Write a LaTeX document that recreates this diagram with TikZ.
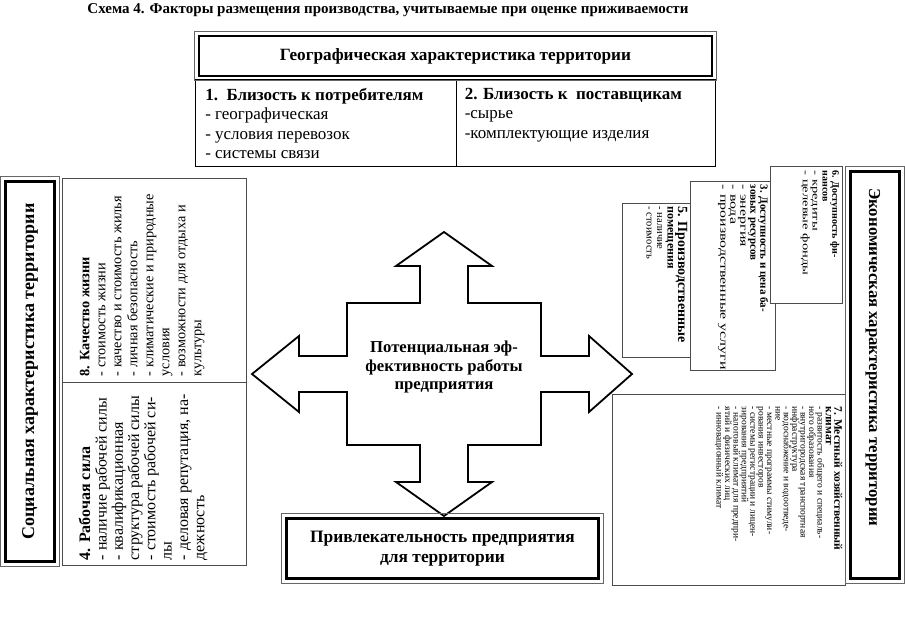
\documentclass[tikz,border=0pt]{standalone}
\usepackage{fontspec}
\setmainfont{Liberation Serif}
\newfontfamily\wideA[FakeStretch=1.45]{Liberation Serif}
\usetikzlibrary{positioning}
\newcommand{\setfs}[2]{\fontsize{#1}{#2}\selectfont\lineskiplimit=-20pt\relax}
\tikzset{
  dfr/.style={draw, line width=2.6pt, fill=white, inner sep=0pt, align=center},
  ofr/.style={draw=black!60, line width=0.8pt},
  box/.style={draw=black!70, line width=0.9pt, fill=white, inner sep=0pt},
  txt/.style={inner sep=0pt, align=left},
  crs/.style={draw, line width=1.8pt, fill=white, line join=miter}
}

\begin{document}
\begin{tikzpicture}[x=1pt, y=-1pt]
	\useasboundingbox (0,0) rectangle (905,623);
	% title
	\node[txt, font={\setfs{15}{16}\bfseries}] (ttl) at (388,10) {Схема 4. Факторы размещения производства, учитываемые при оценке приживаемости};
	% geography: header and two cells
	\node[box, draw=black, minimum width=260.5, minimum height=86.5] (c1) at (325.75,122.75) {};
	\node[box, draw=black, minimum width=259.5, minimum height=86.5] (c2) at (585.75,122.75) {};
	\node[dfr, minimum width=513, minimum height=40, font={\setfs{17.2}{20}\bfseries}] (geo) at (455.5,56) {Географическая характеристика территории};
	\node[txt, anchor=north west, font={\setfs{17}{19.3}}] (c1t) at ([shift={(10,9)}]c1.north west) {\textbf{1.\ \ Близость к потребителям}\\- географическая\\- условия перевозок\\- системы связи};
	\node[txt, anchor=north west, font={\setfs{17}{19.3}}] (c2t) at ([shift={(9,9)}]c2.north west) {\textbf{2. Близость к\ \ поставщикам}\\-сырье\\-комплектующие изделия};
	% central cross
	\coordinate (ctr) at (444,374);
	\draw[crs, shift={(ctr)}] (0,-142) -- (48,-108) -- (24,-108) -- (24,-71) -- (97,-71) -- (97,-18) -- (145,-18) -- (145,-38) -- (188,0) -- (145,38) -- (145,18) -- (97,18) -- (97,71) -- (24,71) -- (24,108) -- (48,108) -- (0,142) -- (-48,108) -- (-24,108) -- (-24,71) -- (-97,71) -- (-97,18) -- (-145,18) -- (-145,38) -- (-192,0) -- (-145,-38) -- (-145,-18) -- (-97,-18) -- (-97,-71) -- (-24,-71) -- (-24,-108) -- (-48,-108) -- cycle;
	\node[align=center, inner sep=0pt, font={\setfs{16.7}{18.5}\bfseries}] (pot) at (444,367) {Потенциальная эф-\\фективность работы\\предприятия};
	% attractiveness
	\node[dfr, minimum width=312, minimum height=60, font={\setfs{17.4}{20}\bfseries}] (att) at (442.5,548.5) {Привлекательность предприятия\\для территории};
	% social side
	\node[dfr, minimum width=49, minimum height=380] (soc) at (30,371.5) {};
	\node[rotate=90, inner sep=0pt, font={\setfs{18}{20}\bfseries}] (socl) at (soc.center) {Социальная характеристика территории};
	\node[box, minimum width=184, minimum height=204] (q8) at (154,280) {};
	\node[txt, rotate=90, anchor=north west, font={\setfs{14.3}{16}}] (q8t) at ([shift={(18,-6)}]q8.south west) {\textbf{8. Качество жизни}\\- стоимость жизни\\- качество и стоимость жилья\\- личная безопасность\\- климатические и природные\\условия\\- возможности для отдыха и\\культуры};
	\node[box, minimum width=184, minimum height=183] (q4) at (154,473.5) {};
	\node[txt, rotate=90, anchor=north west, font={\setfs{16}{16.3}}] (q4t) at ([shift={(17,-5)}]q4.south west) {\textbf{4. Рабочая сила}\\- наличие рабочей силы\\- квалификационная\\структура рабочей силы\\- стоимость рабочей си-\\лы\\- деловая репутация, на-\\дежность};
	% economic side
	\node[dfr, minimum width=49, minimum height=407] (eco) at (875,375) {};
	\node[rotate=-90, anchor=west, inner sep=0pt, font={\setfs{16.75}{20}\bfseries}] (ecol) at (873,188) {Экономическая характеристика территории};
	\node[box, minimum width=68, minimum height=154] (q5) at (656,280) {};
	\node[txt, rotate=-90, anchor=north west, font={\setfs{10.5}{10.5}}] (q5t) at ([shift={(-3,4)}]q5.north east) {{\setfs{14}{11}\bfseries 5. Производственные}\\{\setfs{12}{11}\bfseries помещения}\\- наличие\\- стоимость};
	\node[box, minimum width=85, minimum height=189] (q3) at (732.5,275.5) {};
	\node[txt, rotate=-90, anchor=north west, font={\setfs{11}{10}}] (q3t) at ([shift={(-7,4)}]q3.north east) {\textbf{3. Доступность и цена ба-}\\\textbf{зовых ресурсов}\\{\wideA - энергия}\\{\wideA - вода}\\{\wideA - производственные услуги}};
	\node[box, minimum width=72, minimum height=137] (q6) at (806,234.5) {};
	\node[txt, rotate=-90, anchor=north west, font={\setfs{10}{9.8}}] (q6t) at ([shift={(-3,5)}]q6.north east) {\textbf{6. Доступность фи-}\\\textbf{нансов}\\{\wideA - кредиты}\\{\wideA - целевые фонды}};
	\node[box, minimum width=233, minimum height=191] (q7) at (728.5,489.5) {};
	\node[txt, rotate=-90, anchor=north west, font={\setfs{9.5}{8.4}}] (q7t) at ([shift={(-3,13)}]q7.north east) {{\setfs{11.5}{8.4}\bfseries 7. Местный хозяйственный}\\{\setfs{11.5}{8.4}\bfseries климат}\\- развитость общего и специаль-\\ного образования\\- внутригородская транспортная\\инфраструктура\\- водоснабжение и водоотведе-\\ние\\- местные программы стимули-\\рования инвесторов\\- системы регистрации и лицен-\\зирования предприятий\\- налоговый климат для предпри-\\ятий и физических лиц\\- инновационный климат};
	% thin outer lines of the framed boxes
	\foreach \n in {geo, att, soc, eco}
		\draw[ofr] ([shift={(-3.4,-3.4)}]\n.north west) rectangle ([shift={(3.4,3.4)}]\n.south east);
\end{tikzpicture}
\end{document}
